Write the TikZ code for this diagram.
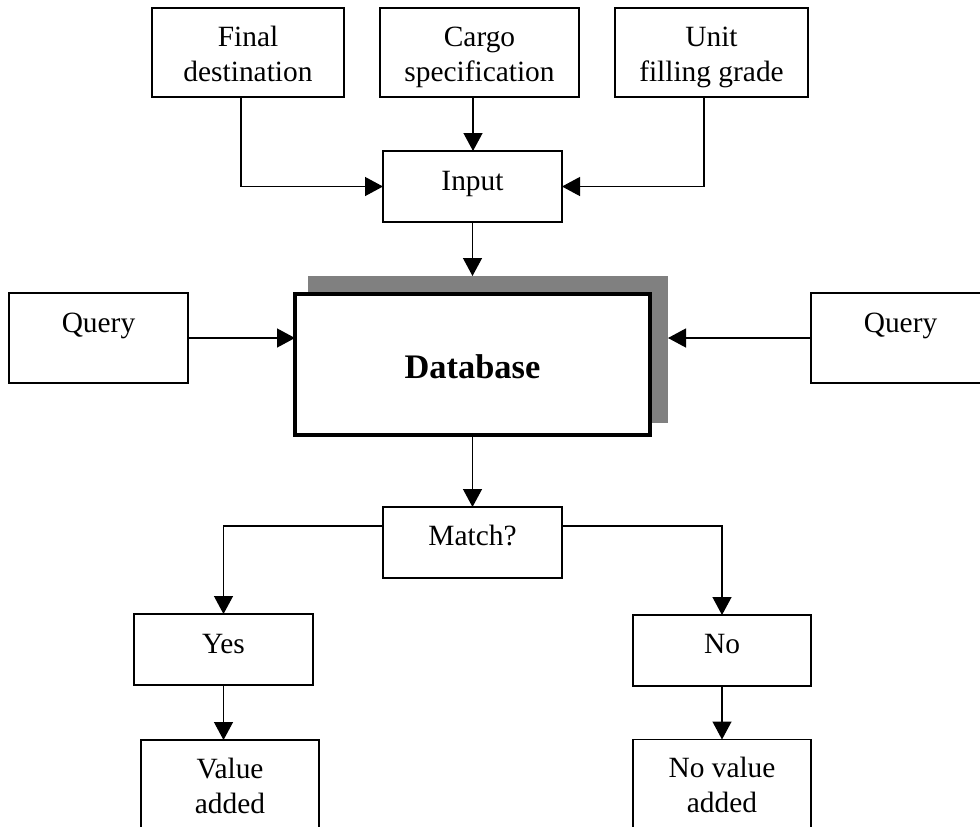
\documentclass[tikz,border=0pt]{standalone}
\usepackage{fontspec}
\setmainfont{Liberation Serif}
\usetikzlibrary{arrows.meta,calc}

\tikzset{
  box/.style={draw=black, line width=0.65pt, fill=white, inner sep=0pt, outer sep=0pt},
  dbbox/.style={draw=black, line width=2pt, fill=white, inner sep=0pt, outer sep=0pt},
  shade/.style={fill=black!50, draw=none, inner sep=0pt, outer sep=0pt},
  lbl/.style={align=center, inner sep=0pt, font=\fontsize{14.7}{17.5}\selectfont},
  dblbl/.style={inner sep=0pt, font=\fontsize{17.2}{20}\selectfont\bfseries},
  arr/.style={line width=0.65pt, -{Triangle[length=9pt,width=9.5pt]}},
}

\begin{document}
\begin{tikzpicture}[x=0.5pt, y=-0.5pt]
\useasboundingbox (0,0) rectangle (980,826);

% top row of sources
\node[box, minimum width=96pt, minimum height=44.5pt] (fd) at (248,52.5) {};
\node[lbl] (fdt) at (248,57) {\strut Final\\\strut destination};
\node[box, minimum width=99.5pt, minimum height=44.5pt] (cs) at (479.5,52.5) {};
\node[lbl] (cst) at (479.5,57) {\strut Cargo\\\strut specification};
\node[box, minimum width=96.5pt, minimum height=44.5pt] (ufg) at (711.5,52.5) {};
\node[lbl] (ufgt) at (711.5,57) {\strut Unit\\\strut filling grade};

% input step
\node[box, minimum width=89.5pt, minimum height=35.5pt] (in) at (472.5,186.5) {};
\node[lbl] (int) at (472.5,183) {\strut Input};

% database with its shadow
\node[shade, minimum width=180pt, minimum height=73.5pt] (sh) at (488,349.5) {};
\node[dbbox, minimum width=177.5pt, minimum height=70.5pt] (db) at (472.5,364.5) {};
\node[dblbl] (dbt) at (472.5,367) {Database};

% queries
\node[box, minimum width=89.5pt, minimum height=45pt] (ql) at (98.5,338) {};
\node[lbl] (qlt) at (98.5,325) {\strut Query};
\node[box, minimum width=89.5pt, minimum height=45pt] (qr) at (900.5,338) {};
\node[lbl] (qrt) at (900.5,325) {\strut Query};

% decision
\node[box, minimum width=89.5pt, minimum height=35.5pt] (match) at (472.5,542.5) {};
\node[lbl] (matcht) at (472.5,538) {\strut Match?};

\node[box, minimum width=89.5pt, minimum height=35.5pt] (yes) at (223.5,649.5) {};
\node[lbl] (yest) at (223.5,646) {\strut Yes};
\node[box, minimum width=89pt, minimum height=35.5pt] (no) at (722,650.5) {};
\node[lbl] (not) at (722,646) {\strut No};

% outcomes
\node[box, minimum width=89pt, minimum height=50pt] (va) at (230,790) {};
\node[lbl] (vat) at (230,788.5) {\strut Value\\\strut added};
\node[box, minimum width=89pt, minimum height=50pt] (nva) at (722,789.5) {};
\node[lbl] (nvat) at (722,788) {\strut No value\\\strut added};

% connectors
\draw[arr] ($(fd.south)+(-7,0)$) |- (in.west);
\draw[arr] ($(cs.south)+(-6.5,0)$) -- ($(in.north)+(0.5,0)$);
\draw[arr] ($(ufg.south)+(-7.5,0)$) |- (in.east);
\draw[arr] (in.south) -- (in.south |- sh.north);
\draw[arr] (ql.east) -- (ql.east -| db.west);
\draw[arr] (qr.west) -- (qr.west -| sh.east);
\draw[arr] (db.south) -- (match.north);
\draw[arr] ($(match.west)+(0,-16.5)$) -| (yes.north);
\draw[arr] ($(match.east)+(0,-16.5)$) -| (no.north);
\draw[arr] (yes.south) -- (yes.south |- va.north);
\draw[arr] (no.south) -- (nva.north);
\end{tikzpicture}
\end{document}
